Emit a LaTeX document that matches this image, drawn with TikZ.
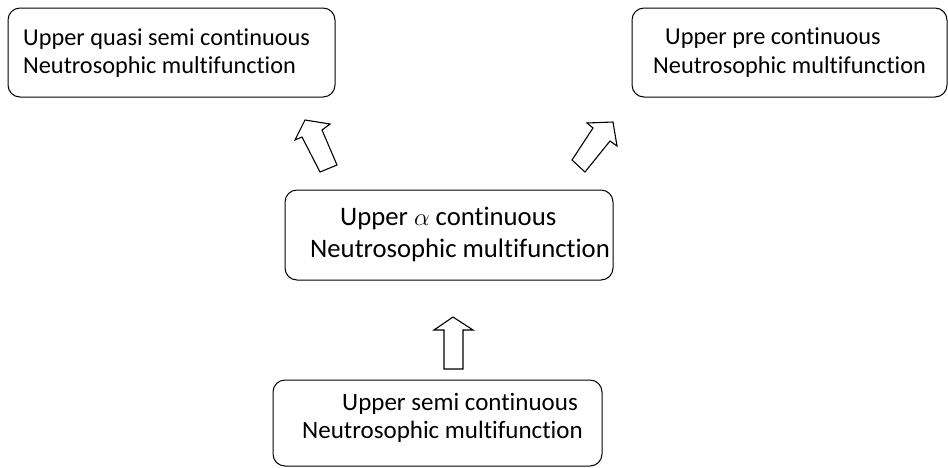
\documentclass[tikz,border=0pt]{standalone}
\usepackage{fontspec}
\setmainfont{Carlito}[Ligatures={NoCommon}]
\begin{document}
\begin{tikzpicture}[x=1pt,y=-1pt,
  boxshape/.style={draw=black,line width=1pt,rounded corners=12pt},
  blockarrow/.style={draw=black,line width=1.1pt,fill=white,line join=miter},
  txttop/.style={anchor=base west,inner sep=0pt,font=\fontsize{24.3}{28}\selectfont},
  txtmid/.style={anchor=base west,inner sep=0pt,font=\fontsize{26.7}{32}\selectfont},
  txtbot/.style={anchor=base west,inner sep=0pt,font=\fontsize{25}{28}\selectfont}]
\useasboundingbox (0,0) rectangle (948,467);
% boxes
\draw[boxshape] (8,8) rectangle (335,97);
\node[inner sep=0pt] (A) at (171.5,52.5) {};
\draw[boxshape] (632,8) rectangle (947,97);
\node[inner sep=0pt] (B) at (789.5,52.5) {};
\draw[boxshape] (285,190) rectangle (613,280);
\node[inner sep=0pt] (C) at (449,235) {};
\draw[boxshape] (273,380) rectangle (602,466);
\node[inner sep=0pt] (D) at (437.5,423) {};
% texts
\node[txttop] (a1) at (23,45) {Upper quasi semi continuous};
\node[txttop] (a2) at (23,73) {Neutrosophic multifunction};
\node[txttop] (b1) at (665,44) {Upper pre continuous};
\node[txttop] (b2) at (653,73) {Neutrosophic multifunction};
\node[txtmid] (c1) at (340,225) {Upper $\alpha$ continuous};
\node[txtmid] (c2) at (310,257) {Neutrosophic multifunction};
\node[txtbot] (d1) at (342,410) {Upper semi continuous};
\node[txtbot] (d2) at (302,438) {Neutrosophic multifunction};
% block arrows
\draw[blockarrow] (305,120) -- (330,124) -- (322,130) -- (337,165) -- (320,172) -- (302,137) -- (295,140) -- cycle;
\draw[blockarrow] (613,122) -- (617,146) -- (610,141) -- (585,172) -- (572,160) -- (593,128) -- (587,123) -- cycle;
\draw[blockarrow] (453,317) -- (473,330) -- (463,330) -- (463,369) -- (444,369) -- (444,330) -- (434,330) -- cycle;
\end{tikzpicture}
\end{document}
